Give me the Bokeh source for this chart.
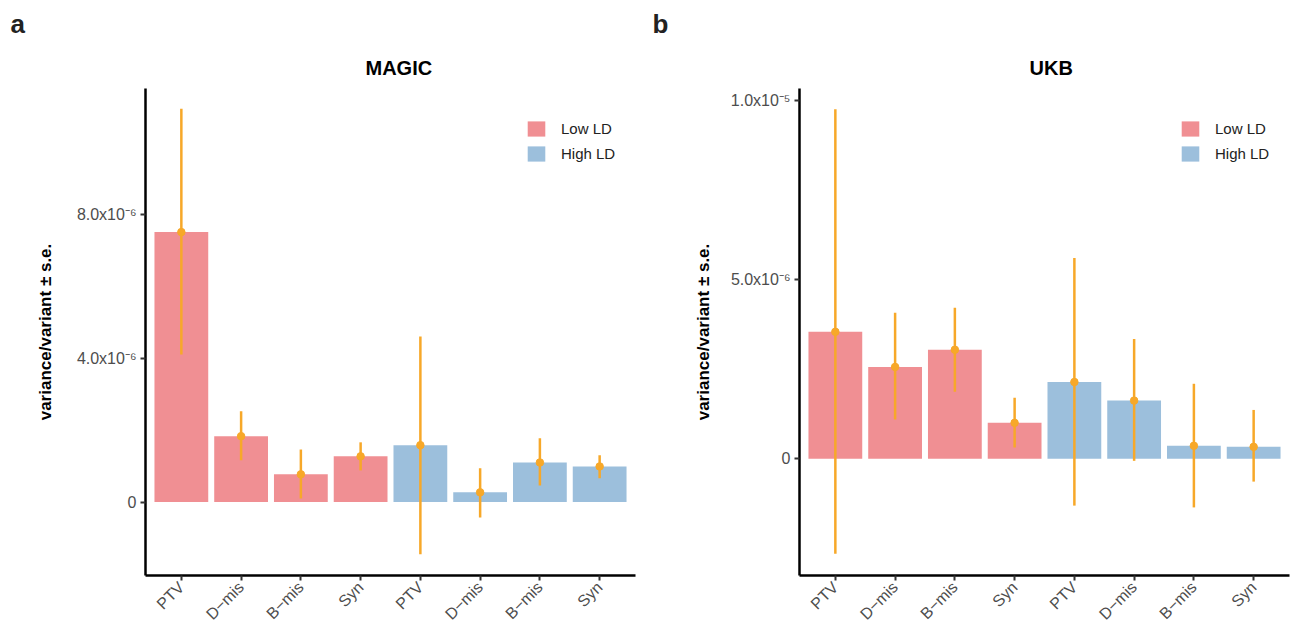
import math
from bokeh.plotting import figure
from bokeh.models import Range1d, FixedTicker, CustomJSTickFormatter, Title
from bokeh.layouts import row
from bokeh.embed import file_html
from bokeh.resources import INLINE

# ---------------- data ----------------
categories = ["PTV", "D\u2212mis", "B\u2212mis", "Syn", "PTV", "D\u2212mis", "B\u2212mis", "Syn"]
x_low = [1, 2, 3, 4]
x_high = [5, 6, 7, 8]

# MAGIC
magic_low = [7.50e-6, 1.83e-6, 0.77e-6, 1.27e-6]
magic_low_lo = [4.10e-6, 1.16e-6, 0.10e-6, 0.88e-6]
magic_low_hi = [10.93e-6, 2.52e-6, 1.46e-6, 1.66e-6]
magic_high = [1.58e-6, 0.27e-6, 1.10e-6, 0.99e-6]
magic_high_lo = [-1.45e-6, -0.43e-6, 0.46e-6, 0.66e-6]
magic_high_hi = [4.60e-6, 0.94e-6, 1.77e-6, 1.30e-6]
magic_yticks = [0, 4e-6, 8e-6]
magic_ylabels = ["0", "4.0x10\u207b\u2076", "8.0x10\u207b\u2076"]

# UKB
ukb_low = [3.54e-6, 2.56e-6, 3.04e-6, 1.00e-6]
ukb_low_lo = [-2.65e-6, 1.09e-6, 1.87e-6, 0.31e-6]
ukb_low_hi = [9.75e-6, 4.07e-6, 4.21e-6, 1.70e-6]
ukb_high = [2.14e-6, 1.62e-6, 0.36e-6, 0.33e-6]
ukb_high_lo = [-1.31e-6, -0.06e-6, -1.36e-6, -0.64e-6]
ukb_high_hi = [5.60e-6, 3.34e-6, 2.09e-6, 1.36e-6]
ukb_yticks = [0, 5e-6, 1e-5]
ukb_ylabels = ["0", "5.0x10\u207b\u2076", "1.0x10\u207b\u2075"]

series_names = ["Low LD", "High LD"]

# ---------------- style ----------------
FONT = "Liberation Sans"
PINK = "#F08F93"
BLUE = "#9CBFDC"
ORANGE = "#F7A829"


def make_panel(title, letter, low, low_lo, low_hi, high, high_lo, high_hi,
               yticks, ylabels, yrange, border_left, border_right, letter_off,
               title_off, label_standoff):
    p = figure(frame_width=490, frame_height=487,
               min_border_left=border_left, min_border_right=border_right,
               min_border_top=88, min_border_bottom=44,
               x_range=Range1d(0.4, 8.6), y_range=Range1d(*yrange),
               output_backend="svg", toolbar_location=None,
               background_fill_color="white", border_fill_color="white")
    p.outline_line_color = None
    p.xgrid.visible = False
    p.ygrid.visible = False

    p.vbar(x=x_low, top=low, bottom=0, width=0.9, fill_color=PINK,
           line_color=None, legend_label=series_names[0])
    p.vbar(x=x_high, top=high, bottom=0, width=0.9, fill_color=BLUE,
           line_color=None, legend_label=series_names[1])

    p.segment(x0=x_low, y0=low_lo, x1=x_low, y1=low_hi, line_color=ORANGE, line_width=2.5)
    p.segment(x0=x_high, y0=high_lo, x1=x_high, y1=high_hi, line_color=ORANGE, line_width=2.5)
    p.scatter(x=x_low, y=low, size=7.5, fill_color=ORANGE, line_color=ORANGE)
    p.scatter(x=x_high, y=high, size=7.5, fill_color=ORANGE, line_color=ORANGE)

    # panel letter (outermost title)
    p.title.text = letter
    p.title.align = "left"
    p.title.offset = letter_off
    p.title.text_font = FONT
    p.title.text_font_size = "26px"
    p.title.text_font_style = "bold"
    p.title.text_color = "#222222"
    p.title.standoff = 13

    # panel title (next to the frame)
    p.add_layout(Title(text=title, align="left", offset=title_off,
                       text_font=FONT, text_font_size="20px",
                       text_font_style="bold", text_color="black",
                       standoff=19), "above")

    # x axis
    xa = p.xaxis[0]
    xa.ticker = FixedTicker(ticks=list(range(1, 9)))
    xa.major_label_overrides = {i + 1: c for i, c in enumerate(categories)}
    xa.major_label_orientation = math.pi / 4
    xa.minor_tick_line_color = None

    # y axis
    ya = p.yaxis[0]
    ya.ticker = FixedTicker(ticks=yticks)
    ya.formatter = CustomJSTickFormatter(args=dict(labels=ylabels), code="return labels[index];")
    ya.minor_tick_line_color = None
    ya.axis_label = "variance/variant \u00b1 s.e."
    ya.axis_label_text_font = FONT
    ya.axis_label_text_font_size = "17px"
    ya.axis_label_text_font_style = "bold"
    ya.axis_label_text_color = "black"
    ya.axis_label_standoff = label_standoff

    for ax in (xa, ya):
        ax.axis_line_color = "black"
        ax.axis_line_width = 2.5
        ax.major_tick_line_color = "#333333"
        ax.major_tick_line_width = 2
        ax.major_tick_out = 5
        ax.major_tick_in = 0
        ax.major_label_text_font = FONT
        ax.major_label_text_font_size = "16px"
        ax.major_label_text_color = "#4D4D4D"
        ax.major_label_standoff = 4

    # legend
    lg = p.legend[0]
    lg.location = (380, 412)
    lg.border_line_color = None
    lg.background_fill_alpha = 0
    lg.padding = 0
    lg.margin = 0
    lg.spacing = 6
    lg.glyph_width = 22
    lg.glyph_height = 19
    lg.label_height = 19
    lg.label_standoff = 14
    lg.label_text_font = FONT
    lg.label_text_font_size = "15px"
    lg.label_text_color = "#222222"
    return p


p1 = make_panel("MAGIC", "a", magic_low, magic_low_lo, magic_low_hi,
                magic_high, magic_high_lo, magic_high_hi,
                magic_yticks, magic_ylabels, (-2.04e-6, 11.49e-6), 145, 11,
                -135, 220, 19)
p2 = make_panel("UKB", "b", ukb_low, ukb_low_lo, ukb_low_hi,
                ukb_high, ukb_high_lo, ukb_high_hi,
                ukb_yticks, ukb_ylabels, (-3.26e-6, 10.33e-6), 153, 2,
                -147, 230, 15)

layout = row(p1, p2)
open("out.html", "w").write(file_html(layout, INLINE))
